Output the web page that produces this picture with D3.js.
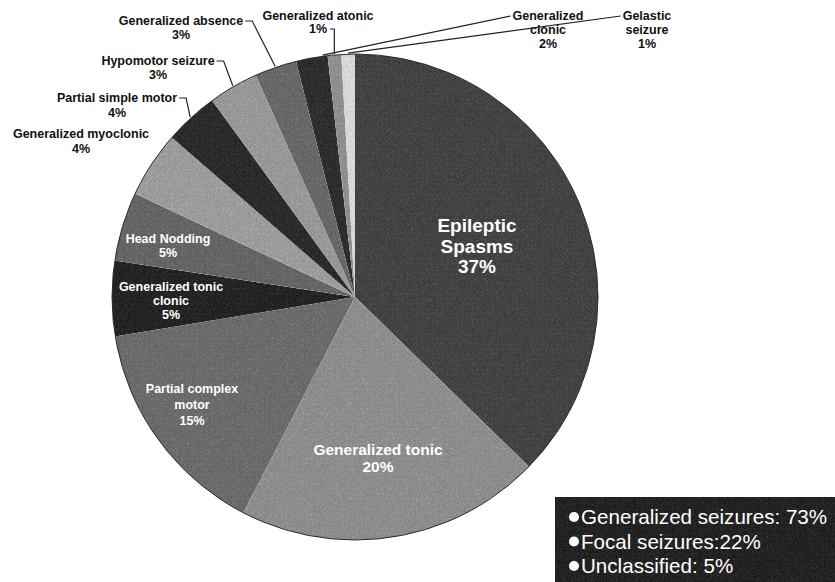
<!DOCTYPE html>
<html>
<head>
<meta charset="utf-8">
<script src="https://cdn.jsdelivr.net/npm/d3@7"></script>
<style>
  body { margin: 0; background: #fff; }
  text { font-family: "Liberation Sans", Arial, sans-serif; }
</style>
</head>
<body>
<div id="chart"></div>
<script>
'use strict'

// seizure types, clockwise from 12 o'clock
const categories = [
  'Epileptic Spasms', 'Generalized tonic', 'Partial complex motor',
  'Generalized tonic clonic', 'Head Nodding', 'Generalized myoclonic',
  'Partial simple motor', 'Hypomotor seizure', 'Generalized absence',
  'Generalized clonic', 'Generalized atonic', 'Gelastic seizure'
];
// share of patients (%), slice sizes
const shares = [37.3, 20.3, 14.8, 5.0, 4.6, 4.4, 3.6, 3.3, 2.8, 2.1, 0.9, 0.9];

const groupNames = ['Generalized seizures: ', 'Focal seizures:', 'Unclassified: '];
const groupShares = [73, 22, 5];

const fills = ['#5d5d5d', '#a7a7a7', '#858585', '#3e3e3e', '#7f7f7f', '#b6b6b6',
               '#454545', '#b2b2b2', '#828282', '#484848', '#a9a9a9', '#f2f2f2'];

// label layout (text lines + where they sit)
const labelLayout = [
  {lines: ['Epileptic', 'Spasms'], x: 477, y: 232, size: 19, step: 20.5, inside: true},
  {lines: ['Generalized tonic'], x: 378, y: 455, size: 15.5, step: 17, inside: true},
  {lines: ['Partial complex', 'motor'], x: 192, y: 393, size: 12.5, step: 16, inside: true},
  {lines: ['Generalized tonic', 'clonic'], x: 171, y: 291, size: 12.5, step: 14, inside: true},
  {lines: ['Head Nodding'], x: 168, y: 243, size: 12.5, step: 14, inside: true},
  {lines: ['Generalized myoclonic'], x: 81, y: 138, size: 12.5, step: 15, leader: null},
  {lines: ['Partial simple motor'], x: 117, y: 102, size: 12.5, step: 15, leader: 'right'},
  {lines: ['Hypomotor seizure'], x: 158, y: 65, size: 12.5, step: 13.5, leader: 'right'},
  {lines: ['Generalized absence'], x: 181, y: 25, size: 12.5, step: 14, leader: 'right'},
  {lines: ['Generalized', 'clonic'], x: 548, y: 20, size: 12.5, step: 14, leader: 'left', frac: 0.85},
  {lines: ['Generalized atonic'], x: 318, y: 20, size: 12.5, step: 13, leader: 'drop'},
  {lines: ['Gelastic', 'seizure'], x: 647, y: 20, size: 12.5, step: 14, leader: 'left'}
];

const W = 835, H = 582;
const cx = 355, cy = 297, R = 243;

const svg = d3.select('#chart').append('svg')
  .attr('width', W)
  .attr('height', H);

// grainy print look
const defs = svg.append('defs');
const grain = defs.append('filter').attr('id', 'grain')
  .attr('x', '-2%').attr('y', '-2%').attr('width', '104%').attr('height', '104%')
  .attr('color-interpolation-filters', 'sRGB');
grain.append('feTurbulence').attr('type', 'fractalNoise')
  .attr('baseFrequency', 1.2).attr('numOctaves', 1).attr('seed', 7).attr('result', 'noise');
grain.append('feColorMatrix').attr('in', 'noise').attr('type', 'saturate').attr('values', 0).attr('result', 'gray');
grain.append('feComposite').attr('in', 'SourceGraphic').attr('in2', 'gray')
  .attr('operator', 'arithmetic')
  .attr('k1', 0).attr('k2', 1).attr('k3', 0.5).attr('k4', -0.25).attr('result', 'mix');
grain.append('feComposite').attr('in', 'mix').attr('in2', 'SourceGraphic').attr('operator', 'in');

const pie = d3.pie().sort(null).value(d => d)
const arcs = pie(shares);
const arc = d3.arc().innerRadius(0).outerRadius(R);

const pieG = svg.append('g')
  .attr('transform', 'translate(' + cx + ',' + cy + ')');

pieG.append('g').attr('filter', 'url(#grain)')
  .selectAll('path').data(arcs).enter()
  .append('path')
    .attr('d', arc)
    .attr('fill', (d, i) => fills[i]);

pieG.append('circle')
  .attr('r', R)
  .attr('fill', 'none')
  .attr('stroke', '#2a2a2a')
  .attr('stroke-width', 1);

// labels
const labels = svg.append('g');
arcs.forEach((d, i) => {
  const lay = labelLayout[i];
  const pct = Math.round(d.value) + '%';
  const lines = lay.lines.concat([pct]);
  const t = labels.append('text')
    .attr('text-anchor', 'middle')
    .attr('font-size', lay.size)
    .attr('font-weight', 'bold')
    .attr('fill', lay.inside ? '#fff' : '#111');
  lines.forEach((ln, k) => {
    t.append('tspan')
      .attr('x', lay.x)
      .attr('y', lay.y + k * lay.step)
      .text(ln);
  });

  if (!lay.leader) return;
  const frac = lay.frac === undefined ? 0.5 : lay.frac;
  const a = d.startAngle + frac * (d.endAngle - d.startAngle);
  const px = cx + Math.sin(a) * (R + 1);
  const py = cy - Math.cos(a) * (R + 1);
  const spans = t.selectAll('tspan').nodes();
  let path;
  if (lay.leader === 'right') {
    const w = spans[0].getComputedTextLength();
    const sx = lay.x + w / 2 + 2, sy = lay.y - 4;
    path = 'M' + sx + ',' + sy + 'h7L' + px + ',' + py;
  } else if (lay.leader === 'left') {
    const w = spans[0].getComputedTextLength();
    const sx = lay.x - w / 2 - 2, sy = lay.y - 4;
    path = 'M' + sx + ',' + sy + 'L' + px + ',' + py;
  } else {
    const last = spans[spans.length - 1];
    const w = last.getComputedTextLength();
    const sx = lay.x + w / 2 + 3, sy = lay.y + (spans.length - 1) * lay.step - 4;
    path = 'M' + sx + ',' + sy + 'H' + px + 'V' + py;
  }
  labels.append('path')
    .attr('d', path)
    .attr('fill', 'none')
    .attr('stroke', '#222')
    .attr('stroke-width', 1.2);
});

// group legend box
const legend = svg.append('g').attr('transform', 'translate(555,497)');
legend.append('rect')
  .attr('width', W - 555)
  .attr('height', H - 497)
  .attr('fill', '#3d3d3d')
  .attr('filter', 'url(#grain)');

const rows = legend.selectAll('g.row').data(groupNames).enter()
  .append('g').attr('class', 'row')
  .attr('transform', (d, i) => 'translate(0,' + (27 + i * 24.5) + ')');

rows.append('circle')
  .attr('cx', 19).attr('cy', -7).attr('r', 5)
  .attr('fill', '#fff');

rows.append('text')
  .attr('x', 26)
  .attr('font-size', 20.6)
  .attr('fill', '#fff')
  .text((d, i) => d + groupShares[i] + '%');
</script>
</body>
</html>
